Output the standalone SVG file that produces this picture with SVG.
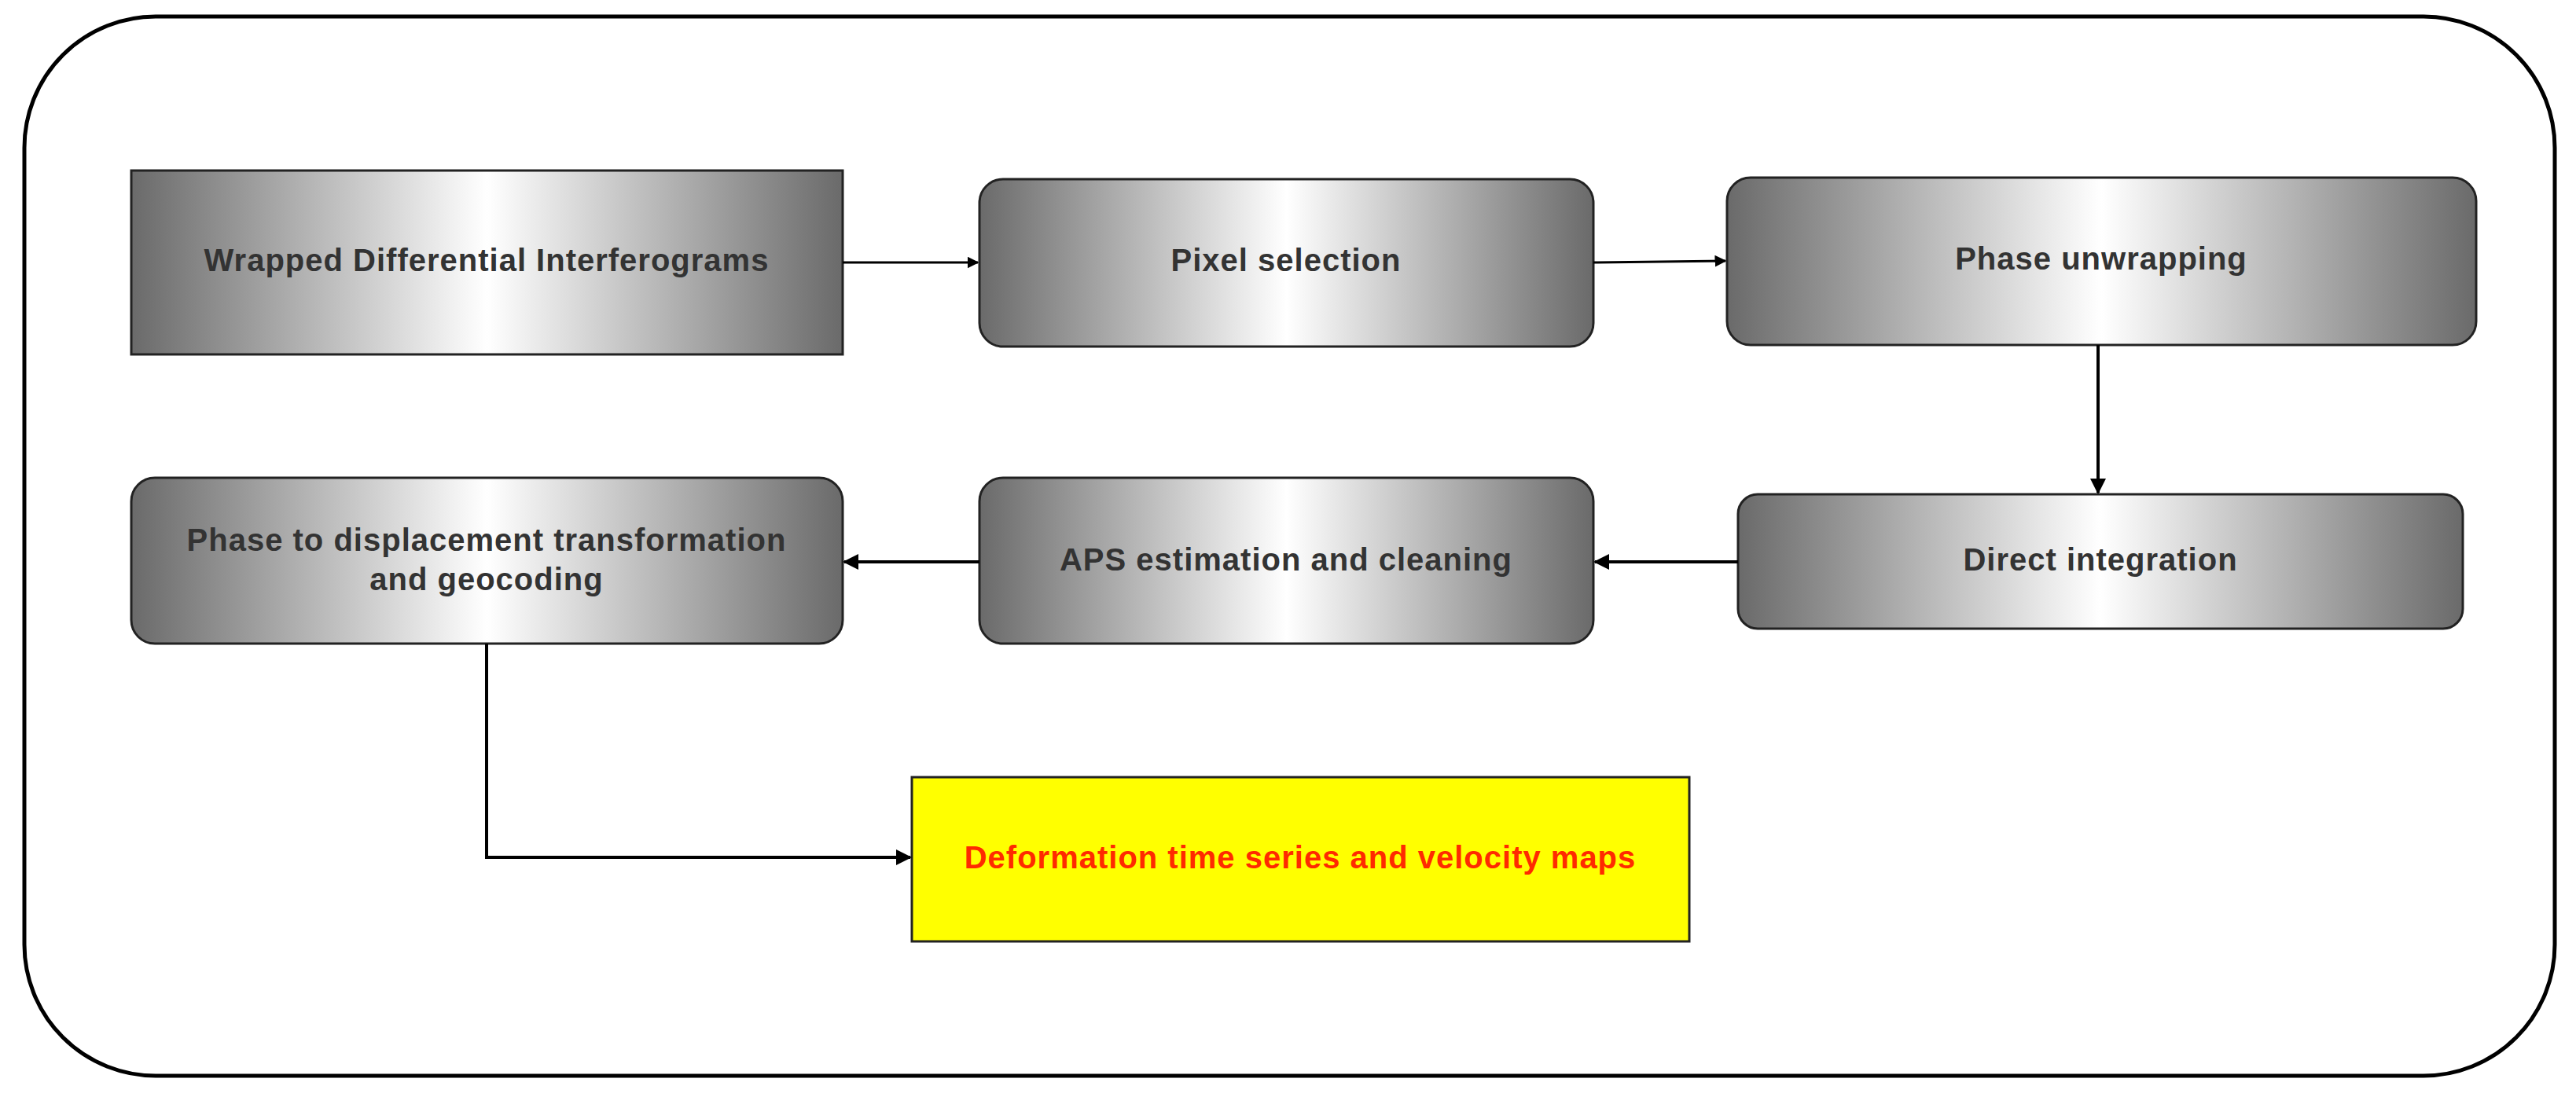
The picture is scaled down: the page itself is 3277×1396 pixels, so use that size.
<svg xmlns="http://www.w3.org/2000/svg" width="3277" height="1396" viewBox="0 0 3277 1396">
<defs>
<linearGradient id="g" x1="0" y1="0" x2="1" y2="0">
<stop offset="0" stop-color="#6a6a6a"/><stop offset="0.5" stop-color="#ffffff"/><stop offset="1" stop-color="#6a6a6a"/>
</linearGradient>
<marker id="ah" viewBox="0 0 10 10" refX="9" refY="5" markerWidth="5" markerHeight="5" orient="auto"><path d="M0,0 L10,5 L0,10 z" fill="#000"/></marker>
<style>
.box{fill:url(#g);stroke:#222;stroke-width:3}
.t{font-family:"Liberation Sans",Arial,sans-serif;font-size:40px;font-weight:bold;letter-spacing:1px;fill:#333;text-anchor:middle;dominant-baseline:middle}
.c{fill:none;stroke:#000;stroke-width:4;marker-end:url(#ah)}
</style>
</defs>
<rect width="3277" height="1396" fill="#fff"/>
<rect x="31" y="21" width="3219" height="1348" rx="167" fill="none" stroke="#000" stroke-width="5"/>
<g id="n1"><rect class="box" x="167" y="217" width="905" height="234"/><text class="t" x="619" y="334">Wrapped Differential Interferograms</text></g>
<g id="n2"><rect class="box" x="1246" y="228" width="781" height="213" rx="30"/><text class="t" x="1636" y="334">Pixel selection</text></g>
<g id="n3"><rect class="box" x="2197" y="226" width="953" height="213" rx="30"/><text class="t" x="2673" y="332">Phase unwrapping</text></g>
<g id="n4"><rect class="box" x="167" y="608" width="905" height="211" rx="30"/><text class="t" x="619" y="690">Phase to displacement transformation</text><text class="t" x="619" y="740">and geocoding</text></g>
<g id="n5"><rect class="box" x="1246" y="608" width="781" height="211" rx="30"/><text class="t" x="1636" y="715">APS estimation and cleaning</text></g>
<g id="n6"><rect class="box" x="2211" y="629" width="922" height="171" rx="25"/><text class="t" x="2672" y="715">Direct integration</text></g>
<g id="n7"><rect x="1160" y="989" width="989" height="209" fill="#ffff00" stroke="#222" stroke-width="3"/><text class="t" x="1654" y="1094" style="fill:#ff2a00">Deformation time series and velocity maps</text></g>
<g id="connectors">
<path class="c" d="M1072,334 H1244" style="stroke-width:3"/>
<path class="c" d="M2027,334 L2195,332" style="stroke-width:3"/>
<path class="c" d="M2669,439 V627"/>
<path class="c" d="M2211,715 H2029"/>
<path class="c" d="M1246,715 H1074"/>
<path class="c" d="M619,819 V1091 H1158"/>
</g>
</svg>
